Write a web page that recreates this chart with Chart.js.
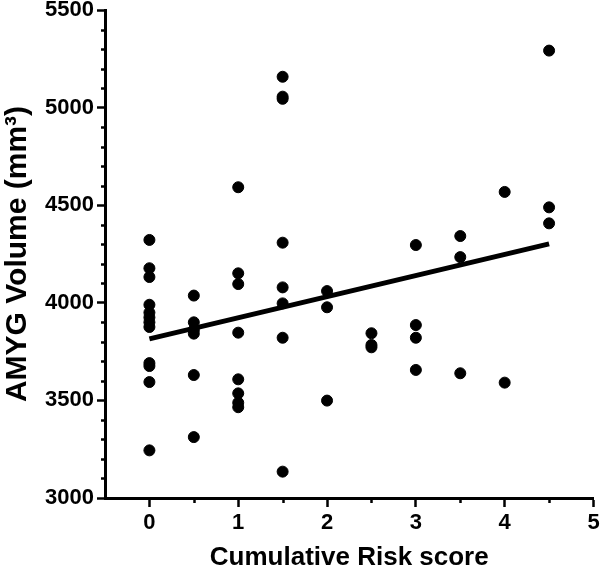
<!DOCTYPE html>
<html>
<head>
<meta charset="utf-8">
<script src="https://cdn.jsdelivr.net/npm/chart.js@4/dist/chart.umd.min.js"></script>
<style>
    body { margin: 0; background: #fff; }
    canvas { display: block; }
</style>
</head>
<body>
<canvas id="amyg-chart" width="600" height="570"></canvas>
<script>
// Cumulative risk score per subject
const riskScore = [
    0, 0, 0, 0, 0, 0, 0, 0, 0, 0, 0, 0,
    0.5, 0.5, 0.5, 0.5, 0.5, 0.5,
    1, 1, 1, 1, 1, 1, 1, 1,
    1.5, 1.5, 1.5, 1.5, 1.5, 1.5, 1.5, 1.5,
    2, 2, 2,
    2.5, 2.5, 2.5,
    3, 3, 3, 3,
    3.5, 3.5, 3.5,
    4, 4,
    4.5, 4.5, 4.5
];
// AMYG volume (mm3) per subject
const amygVolume = [
    4322, 4177, 4132, 3990, 3950, 3925, 3900, 3876, 3691, 3676, 3594, 3244,
    4037, 3900, 3861, 3842, 3630, 3312,
    4592, 4151, 4096, 3847, 3608, 3536, 3488, 3465,
    5158, 5056, 5045, 4308, 4079, 3997, 3821, 3135,
    4060, 3977, 3499,
    3844, 3784, 3772,
    4296, 3886, 3821, 3656,
    4342, 4234, 3639,
    4568, 3591,
    5292, 4489, 4407
];
// fitted regression line end points
const lineX = [0, 4.5];
const lineY = [3815, 4302];

const yTicks = [3000, 3500, 4000, 4500, 5000, 5500];
const xTicks = [0, 1, 2, 3, 4, 5];

const fontFamily = '"Liberation Sans", Arial, sans-serif';

// short minor ticks, drawn through the scales
const minorTicks = {
    id: 'minorTicks',
    afterDraw(chart) {
        const c = chart.ctx;
        const x = chart.scales.x, y = chart.scales.y;
        c.save();
        c.strokeStyle = '#000';
        c.lineWidth = 2.5;
        for (let v = 3100; v < 5500; v += 100) {
            if (v % 500 === 0) continue;
            const py = Math.round(y.getPixelForValue(v)) + 0.5;
            c.beginPath();
            c.moveTo(y.right - 4, py);
            c.lineTo(y.right, py);
            c.stroke();
        }
        for (let v = 0.5; v < 5; v += 1) {
            const px = Math.round(x.getPixelForValue(v)) + 0.5;
            c.beginPath();
            c.moveTo(px, x.top);
            c.lineTo(px, x.top + 5);
            c.stroke();
        }
        c.restore();
    }
};

const points = riskScore.map((r, i) => ({ x: r, y: amygVolume[i] }));
const fitLine = lineX.map((r, i) => ({ x: r, y: lineY[i] }));

new Chart(document.getElementById('amyg-chart'), {
    type: 'scatter',
    data: {
        datasets: [{
            data: points,
            backgroundColor: '#000',
            borderColor: '#000',
            pointRadius: 5.5,
            pointHoverRadius: 5.5,
            order: 2
        }, {
            type: 'line',
            data: fitLine,
            borderColor: '#000',
            borderWidth: 5,
            pointRadius: 0,
            fill: false,
            order: 1
        }]
    },
    options: {
        responsive: false,
        animation: false,
        layout: { padding: { top: 10, right: 3, left: 0, bottom: 0 } },
        plugins: {
            legend: { display: false },
            tooltip: { enabled: false }
        },
        scales: {
            x: {
                type: 'linear',
                min: -0.5,
                max: 5,
                afterBuildTicks: s => { s.ticks = xTicks.map(v => ({ value: v })); },
                afterFit: s => { s.height = 72; s.paddingLeft = 0; s.paddingRight = 0; },
                border: { display: true, color: '#000', width: 3 },
                grid: { display: true, drawOnChartArea: false, tickLength: 9, tickWidth: 2.5, tickColor: '#000' },
                ticks: {
                    color: '#000',
                    padding: 3,
                    callback: v => String(v),
                    font: { family: fontFamily, size: 22, weight: 'bold' }
                },
                title: {
                    display: true,
                    text: 'Cumulative Risk score',
                    color: '#000',
                    padding: { top: 13, bottom: 0 },
                    font: { family: fontFamily, size: 26, weight: 'bold', lineHeight: 0.95 }
                }
            },
            y: {
                type: 'linear',
                min: 3000,
                max: 5500,
                afterBuildTicks: s => { s.ticks = yTicks.map(v => ({ value: v })); },
                afterFit: s => { s.width = 105; s.paddingTop = 0; s.paddingBottom = 0; },
                border: { display: true, color: '#000', width: 3 },
                grid: { display: true, drawOnChartArea: false, tickLength: 8, tickWidth: 2.5, tickColor: '#000' },
                ticks: {
                    color: '#000',
                    padding: 3,
                    callback: v => String(v),
                    font: { family: fontFamily, size: 22, weight: 'bold' }
                },
                title: {
                    display: true,
                    text: 'AMYG Volume (mm³)',
                    color: '#000',
                    padding: { top: 0, bottom: 2 },
                    font: { family: fontFamily, size: 30, weight: 'bold' }
                }
            }
        }
    },
    plugins: [minorTicks]
});
</script>
</body>
</html>
